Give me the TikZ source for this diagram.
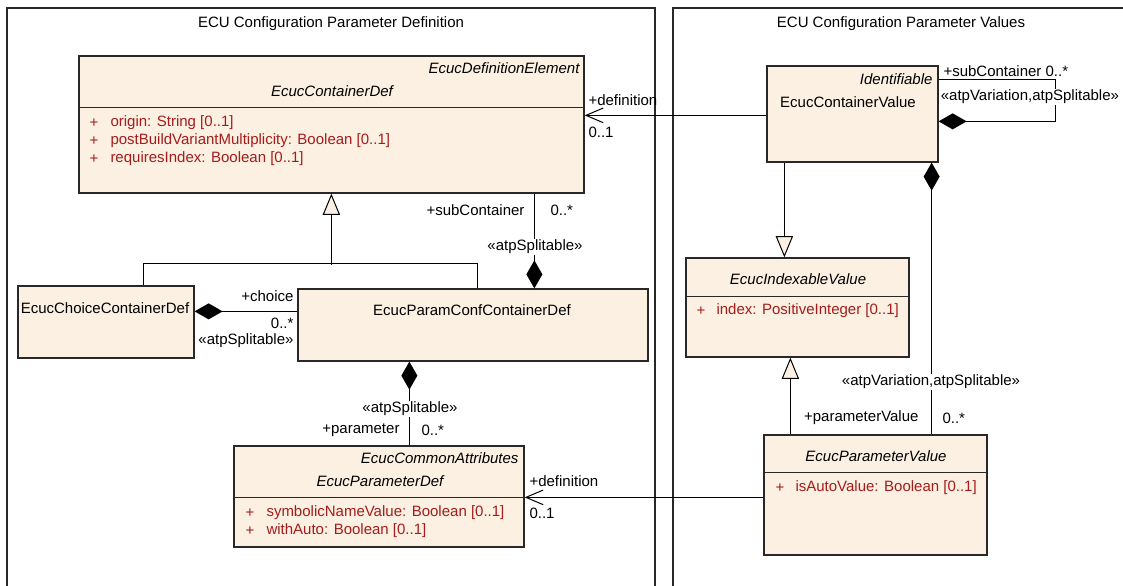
\documentclass[tikz,border=0pt]{standalone}
\usepackage{fontspec}
\setmainfont{Liberation Sans}
\usetikzlibrary{arrows.meta}
\usetikzlibrary{calc}
\usetikzlibrary{fit}
\definecolor{umlfill}{RGB}{251,240,226}
\definecolor{attrred}{RGB}{165,28,28}
\definecolor{umlline}{RGB}{40,40,40}
\tikzset{umlbox/.style = {draw = umlline, fill = umlfill, line width = 0.95pt, inner sep = 0}}
\tikzset{sepline/.style = {draw = umlline, line width = 0.95pt}}
\tikzset{txt/.style = {inner sep = 0}}
\tikzset{attr/.style = {inner sep = 0, anchor = west, text = attrred}}
\tikzset{stlbl/.style = {inner sep = 1pt, fill = white}}
\tikzset{assoc/.style = {-{Straight Barb[length=13pt, width=11pt]}}}
\tikzset{gen/.style = {-{Triangle[length=16pt, width=13pt, fill=umlfill]}}}
\tikzset{comp/.style = {{Diamond[length=21pt, width=12pt]}-}}

\begin{document}
\begin{tikzpicture}[x=0.75pt, y=-0.75pt, line width=0.75pt,
    font=\fontsize{11.25pt}{13pt}\selectfont]
  \useasboundingbox (0,0) rectangle (1123,585);

  % packages
  \draw [umlline, line width=0.95pt] (7,600) -- (7,8) -- (655,8) -- (655,600);
  \draw [umlline, line width=0.95pt] (673,600) -- (673,8) -- (1140,8);
  \node [txt] (ttl-def) at (331,24) {ECU Configuration Parameter Definition};
  \node [txt] (ttl-val) at (901,24) {ECU Configuration Parameter Values};

  % classes
  \node [umlbox, fit={(79,56) (584,193)}] (cdef) {};
  \node [umlbox, fit={(767,66) (938,162)}] (cval) {};
  \node [umlbox, fit={(686,258) (909,357)}] (ival) {};
  \node [umlbox, fit={(764,435) (987,555)}] (pval) {};
  \node [umlbox, fit={(234,446) (524,547)}] (pdef) {};
  \node [umlbox, fit={(298,289) (648,361)}] (pccd) {};
  \node [umlbox, fit={(18,286) (194,358)}] (chcd) {};

  \node [txt, anchor=east] (cdef-st) at (580,68) {\itshape EcucDefinitionElement};
  \node [txt] (cdef-nm) at (332,91) {\itshape EcucContainerDef};
  \draw [sepline] ($(cdef.north west)+(0,52)$) -- ($(cdef.north east)+(0,52)$);
  \node [attr] (cdef-p1) at (89,123) {+};
  \node [attr] (cdef-a1) at (110,123) {origin: String [0..1]};
  \node [attr] (cdef-p2) at (89,141) {+};
  \node [attr] (cdef-a2) at (110,141) {postBuildVariantMultiplicity: Boolean [0..1]};
  \node [attr] (cdef-p3) at (89,159) {+};
  \node [attr] (cdef-a3) at (110,159) {requiresIndex: Boolean [0..1]};

  \node [txt, anchor=east] (cval-st) at (933,79) {\itshape Identifiable};
  \node [txt] (cval-nm) at (848,102) {EcucContainerValue};

  \node [txt] (ival-nm) at (798,279) {\itshape EcucIndexableValue};
  \draw [sepline] ($(ival.north west)+(0,39)$) -- ($(ival.north east)+(0,39)$);
  \node [attr] (ival-p1) at (696,311) {+};
  \node [attr] (ival-a1) at (716,311) {index: PositiveInteger [0..1]};

  \node [txt] (pval-nm) at (876,456) {\itshape EcucParameterValue};
  \draw [sepline] ($(pval.north west)+(0,38)$) -- ($(pval.north east)+(0,38)$);
  \node [attr] (pval-p1) at (775,488) {+};
  \node [attr] (pval-a1) at (795,488) {isAutoValue: Boolean [0..1]};

  \node [txt, anchor=east] (pdef-st) at (519,458) {\itshape EcucCommonAttributes};
  \node [txt] (pdef-nm) at (380,481) {\itshape EcucParameterDef};
  \draw [sepline] ($(pdef.north west)+(0,52)$) -- ($(pdef.north east)+(0,52)$);
  \node [attr] (pdef-p1) at (245,513) {+};
  \node [attr] (pdef-a1) at (266,513) {symbolicNameValue: Boolean [0..1]};
  \node [attr] (pdef-p2) at (245,531) {+};
  \node [attr] (pdef-a2) at (266,531) {withAuto: Boolean [0..1]};

  \node [txt] (pccd-nm) at (472,310) {EcucParamConfContainerDef};
  \node [txt] (chcd-nm) at (105,308) {EcucChoiceContainerDef};

  % definition links
  \draw [assoc] ($(cval.north west)+(0,50)$) coordinate (a1) -- (a1 -| cdef.east);
  \node [txt, anchor=west] (a1-role) at (588,100) {+definition};
  \node [txt, anchor=west] (a1-mult) at (588,132) {0..1};

  \draw [assoc] ($(pval.north west)+(0,63)$) coordinate (a2) -- (a2 -| pdef.east);
  \node [txt, anchor=west] (a2-role) at (529,481) {+definition};
  \node [txt, anchor=west] (a2-mult) at (529,513) {0..1};

  % sub containers
  \draw [comp] ($(cval.north east)+(0,56)$) -- ++(117,0) -- ++(0,-42)
    -- ($(cval.north east)+(0,14)$);
  \node [txt, anchor=west] (sc-role) at (943,71) {+subContainer 0..*};
  \node [stlbl, anchor=west] (sc-st) at (939,97) {«atpVariation,atpSplitable»};

  \draw [comp] ($(pccd.north west)+(237,0)$) coordinate (c5) -- (c5 |- cdef.south);
  \node [txt, anchor=east] (c5-role) at (525,210) {+subContainer};
  \node [txt, anchor=west] (c5-mult) at (550,210) {0..*};
  \node [stlbl] (c5-st) at (535,247) {«atpSplitable»};

  \draw [comp] ($(chcd.north east)+(0,26)$) coordinate (c4) -- (c4 -| pccd.west);
  \node [txt, anchor=east] (c4-role) at (294,296) {+choice};
  \node [txt, anchor=east] (c4-mult) at (294,323) {0..*};
  \node [txt, anchor=east] (c4-st) at (294,341) {«atpSplitable»};

  % parameters
  \draw [comp] ($(pccd.south west)+(112,0)$) coordinate (c3) -- (c3 |- pdef.north);
  \node [stlbl] (c3-st) at (410,409) {«atpSplitable»};
  \node [txt, anchor=east] (c3-role) at (400,430) {+parameter};
  \node [txt, anchor=west] (c3-mult) at (421,430) {0..*};

  \draw [comp] ($(cval.south east)+(-7,0)$) coordinate (c1) -- (c1 |- pval.north);
  \node [stlbl] (c1-st) at (931,382) {«atpVariation,atpSplitable»};
  \node [txt, anchor=east] (c1-role) at (919,418) {+parameterValue};
  \node [txt, anchor=west] (c1-mult) at (942,418) {0..*};

  % generalizations
  \draw ($(chcd.north west)+(126,0)$) -- ++(0,-22) -- ($(pccd.north west)+(180,-25)$)
    -- ($(pccd.north west)+(180,0)$);
  \draw [gen] ($(cdef.south west)+(253,71)$) coordinate (g3) -- (g3 |- cdef.south);
  \draw [gen] ($(cval.south west)+(18,0)$) coordinate (g1) -- (g1 |- ival.north);
  \draw [gen] ($(pval.north west)+(27,0)$) coordinate (g2) -- (g2 |- ival.south);
\end{tikzpicture}
\end{document}
